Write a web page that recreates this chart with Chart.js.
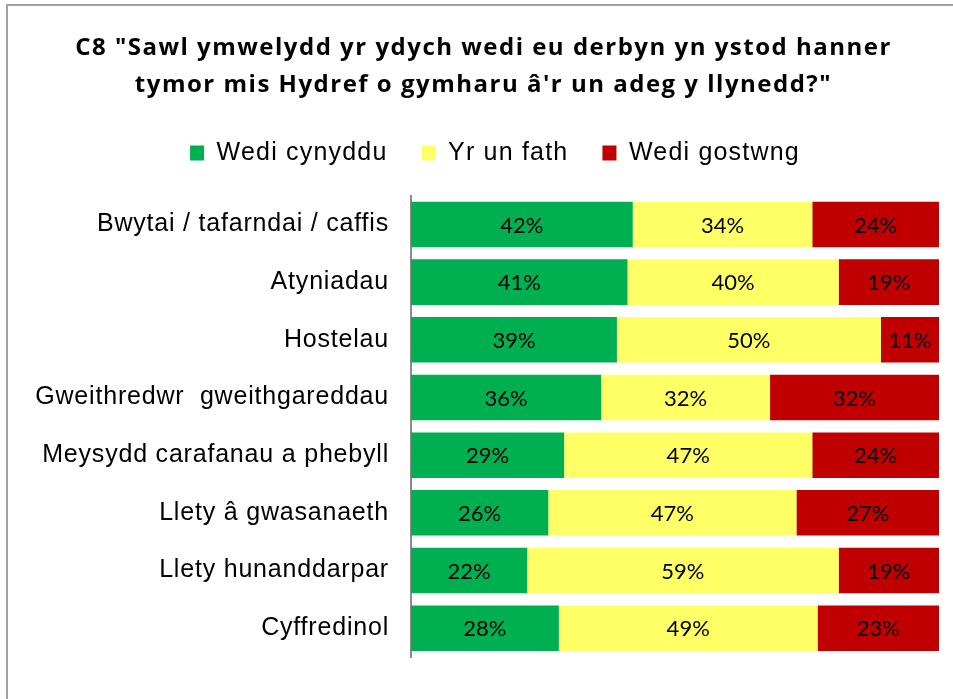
<!DOCTYPE html>
<html>
<head>
<meta charset="utf-8">
<script src="https://cdn.jsdelivr.net/npm/chart.js@4/dist/chart.umd.min.js"></script>
<style>
  html, body { margin: 0; padding: 0; background: #fff; }
  body { width: 953px; height: 699px; position: relative; overflow: hidden; }
  #frame { position: absolute; left: 6px; top: 4px; width: 1200px; height: 1200px;
           border-left: 2px solid #a0a0a0; border-top: 2px solid #a0a0a0; }
  #wrap { position: absolute; left: 0; top: 0; width: 953px; height: 699px; }
</style>
</head>
<body>
<div id="frame"></div>
<div id="wrap"><canvas id="c" width="953" height="699"></canvas></div>
<script>
const titleLines = ['C8 "Sawl ymwelydd yr ydych wedi eu derbyn yn ystod hanner', "tymor mis Hydref o gymharu â'r un adeg y llynedd?\""];
const categories = [
  'Bwytai / tafarndai / caffis',
  'Atyniadau',
  'Hostelau',
  'Gweithredwr  gweithgareddau',
  'Meysydd carafanau a phebyll',
  'Llety â gwasanaeth',
  'Llety hunanddarpar',
  'Cyffredinol'
];
const seriesNames = ['Wedi cynyddu', 'Yr un fath', 'Wedi gostwng'];
const increased = [42, 41, 39, 36, 29, 26, 22, 28];
const same      = [34, 40, 50, 32, 47, 47, 59, 49];
const decreased = [24, 19, 11, 32, 24, 27, 19, 23];
const colors = ['#00B050', '#FFFF66', '#C00000'];

const valueLabels = {
  id: 'valueLabels',
  afterDatasetsDraw(chart) {
    const ctx = chart.ctx;
    ctx.save();
    ctx.letterSpacing = '0px';
    ctx.font = '22px Lato, "Open Sans", sans-serif';
    ctx.fillStyle = '#000';
    ctx.textAlign = 'center';
    ctx.textBaseline = 'middle';
    chart.data.datasets.forEach((ds, i) => {
      const meta = chart.getDatasetMeta(i);
      meta.data.forEach((bar, j) => {
        const p = bar.getProps(['x', 'y', 'base'], true);
        ctx.fillText(ds.data[j] + '%', (p.x + p.base) / 2, p.y + 1);
      });
    });
    ctx.restore();
  }
};

const legendShift = {
  id: 'legendShift',
  afterLayout(chart) {
    const lg = chart.legend;
    if (lg) { lg.left += 11.5; lg.right += 11.5; }
  }
};

const chart = new Chart(document.getElementById('c'), {
  type: 'bar',
  data: {
    labels: categories,
    datasets: [
      { label: seriesNames[0], data: increased, backgroundColor: colors[0], borderWidth: 0 },
      { label: seriesNames[1], data: same,      backgroundColor: colors[1], borderWidth: 0 },
      { label: seriesNames[2], data: decreased, backgroundColor: colors[2], borderWidth: 0 }
    ]
  },
  options: {
    indexAxis: 'y',
    responsive: false,
    animation: false,
    events: [],
    barPercentage: 0.79,
    categoryPercentage: 1,
    layout: { padding: { left: 28, right: 14, top: 0, bottom: 42 } },
    scales: {
      x: { stacked: true, min: 0, max: 100, display: false },
      y: {
        stacked: true,
        grid: { display: false, drawTicks: false },
        border: { display: true, color: '#8c8c8c', width: 2 },
        ticks: { color: '#000', padding: 22, font: { family: '"Liberation Sans", Arial, sans-serif', size: 25 } },
        afterFit(scale) { scale.width = 383; }
      }
    },
    plugins: {
      title: {
        display: true,
        text: titleLines,
        color: '#000',
        font: { family: '"Open Sans", sans-serif', size: 24, weight: 'bold', lineHeight: 1.53 },
        padding: { top: 30, bottom: 3 }
      },
      subtitle: {
        display: true,
        text: ' ',
        font: { size: 1, lineHeight: 1.2 },
        padding: { top: 10, bottom: 9 }
      },
      legend: {
        display: true,
        position: 'top',
        weight: 1800,
        labels: {
          color: '#000',
          boxWidth: 14,
          boxHeight: 15,
          padding: 34,
          font: { family: '"Liberation Sans", Arial, sans-serif', size: 25 }
        }
      },
      tooltip: { enabled: false }
    }
  },
  plugins: [valueLabels, legendShift]
});

function spaced(obj, method, sp) {
  const orig = obj[method];
  obj[method] = function (...args) {
    const c = this.ctx;
    const prev = c.letterSpacing;
    c.letterSpacing = sp;
    try { return orig.apply(this, args); } finally { c.letterSpacing = prev; }
  };
}
spaced(chart.titleBlock, 'draw', '1.5px');
spaced(chart.legend, 'fit', '1.2px');
spaced(chart.legend, 'draw', '1.2px');
spaced(chart.scales.y, 'draw', '0.8px');
chart.update();
</script>
</body>
</html>
